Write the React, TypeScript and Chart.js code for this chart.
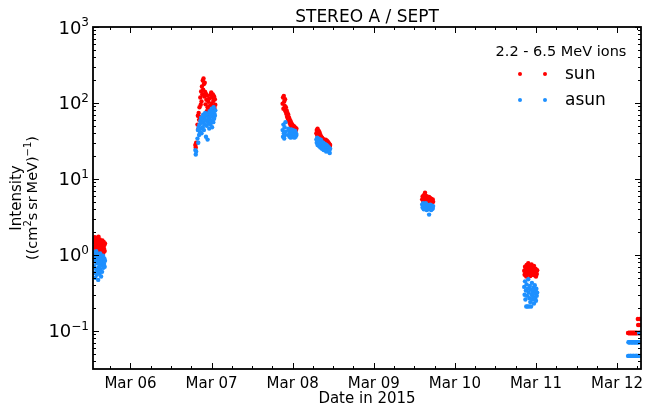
import React, { useEffect, useRef } from 'react';
import { Chart, registerables } from 'chart.js';

Chart.register(...registerables);

const FONT = "'DejaVu Sans', sans-serif";

const chartTitle = 'STEREO A / SEPT';
const xTitle = 'Date in 2015';
const yTitleLine1 = 'Intensity';
const legendTitle = '2.2 - 6.5 MeV ions';
const seriesNames = ['sun', 'asun'];
const seriesColors = ['#ff0000', '#1e90ff'];

const dayTicks = [6, 7, 8, 9, 10, 11, 12];
const dayLabels = ['Mar 06', 'Mar 07', 'Mar 08', 'Mar 09', 'Mar 10', 'Mar 11', 'Mar 12'];
const yExponents = [-1, 0, 1, 2, 3];
const xRange = [5.538, 12.295];
const yRange = [0.0316, 1000];

// time in days of March 2015
const t1 = [5.546, 5.550, 5.554, 5.558, 5.562, 5.566, 5.570, 5.574, 5.578, 5.582, 5.586, 5.590, 5.594, 5.598, 5.602, 5.606, 5.610, 5.614, 5.618, 5.622, 5.626, 5.630, 5.634, 5.638, 5.642, 5.646, 5.650, 5.654, 5.658, 5.662, 5.666, 5.670, 5.674, 5.678, 5.682, 5.686];
const sun1 = [1.62, 1.25, 1.48, 1.05, 1.71, 1.33, 1.12, 1.58, 1.41, 0.98, 1.66, 1.22, 1.50, 1.36, 1.08, 1.74, 1.29, 1.45, 1.15, 1.60, 1.02, 1.38, 1.52, 1.19, 1.44, 1.31, 1.10, 1.55, 1.27, 1.40, 1.06, 1.48, 1.21, 1.35, 1.13, 1.42];
const asun1 = [0.92, 0.71, 1.08, 0.58, 0.85, 0.50, 0.97, 0.66, 1.12, 0.78, 0.55, 0.89, 0.62, 1.02, 0.47, 0.81, 0.69, 0.95, 0.57, 0.74, 1.05, 0.64, 0.87, 0.52, 0.79, 0.93, 0.60, 0.83, 0.72, 0.98, 0.68, 0.88, 0.76, 0.90, 0.70, 0.84];

const t2 = [6.800, 6.805, 6.810, 6.826, 6.831, 6.836, 6.841, 6.846, 6.851, 6.856, 6.861, 6.866, 6.871, 6.876, 6.881, 6.886, 6.891, 6.896, 6.901, 6.906, 6.911, 6.916, 6.921, 6.926, 6.931, 6.936, 6.941, 6.946, 6.951, 6.956, 6.961, 6.966, 6.971, 6.976, 6.981, 6.986, 6.991, 6.996, 7.001, 7.006, 7.011, 7.016, 7.021, 7.026, 7.031, 7.036, 7.041, 7.046];
const sun2 = [28, 26, 30, 52, 68, 45, 74, 60, 88, 65, 118, 95, 142, 105, 165, 130, 198, 150, 210, 178, 122, 185, 140, 96, 132, 110, 78, 125, 88, 70, 104, 62, 115, 84, 92, 128, 75, 138, 98, 118, 82, 130, 106, 90, 122, 86, 112, 95];
const asun2 = [24, 21, 23, 34, 44, 30, 48, 38, 52, 42, 58, 46, 64, 40, 55, 62, 48, 70, 56, 44, 66, 52, 74, 60, 36, 68, 50, 58, 33, 72, 54, 64, 46, 78, 60, 52, 70, 58, 84, 48, 66, 76, 56, 88, 62, 72, 68, 80];

const t3 = [7.876, 7.881, 7.886, 7.891, 7.896, 7.901, 7.906, 7.911, 7.916, 7.921, 7.926, 7.931, 7.936, 7.941, 7.946, 7.951, 7.956, 7.961, 7.966, 7.971, 7.976, 7.981, 7.986, 7.991, 7.996, 8.001, 8.006, 8.011, 8.016, 8.021, 8.026, 8.031, 8.036, 8.041, 8.046];
const sun3 = [98, 118, 84, 124, 105, 92, 112, 78, 88, 72, 80, 66, 74, 62, 70, 58, 64, 55, 60, 52, 57, 50, 54, 48, 52, 46, 50, 47, 44, 49, 45, 43, 47, 44, 46];
const asun3 = [44, 36, 52, 40, 34, 48, 38, 56, 42, null, null, null, null, null, 46, 38, 44, 36, 42, 40, 35, 45, 38, 42, 36, 40, 44, 37, 41, 35, 39, 43, 36, 40, 38];

const t4 = [8.292, 8.297, 8.302, 8.307, 8.312, 8.317, 8.322, 8.327, 8.332, 8.337, 8.342, 8.347, 8.352, 8.357, 8.362, 8.367, 8.372, 8.377, 8.382, 8.387, 8.392, 8.397, 8.402, 8.407, 8.412, 8.417, 8.422, 8.427, 8.432, 8.437, 8.442, 8.447, 8.452, 8.457, 8.462];
const sun4 = [40, 44, 38, 46, 42, 39, 43, 37, 41, 36, 38, 34, 36, 33, 35, 32, 34, 31, 33, 30, 32, 31, 29, 33, 30, 28, 32, 29, 31, 27, 30, 28, 29, 27, 28];
const asun4 = [33, 30, 35, 28, 32, 29, 34, 27, 31, 30, 26, 33, 28, 31, 25, 29, 27, 30, 24, 28, 26, 29, 25, 27, 23, 28, 26, 24, 27, 25, 23, 26, 24, 22, 25];

const t5 = [9.597, 9.602, 9.607, 9.612, 9.617, 9.622, 9.627, 9.632, 9.637, 9.642, 9.647, 9.652, 9.657, 9.662, 9.667, 9.672, 9.677, 9.682, 9.687, 9.692, 9.697, 9.702, 9.707, 9.712, 9.717, 9.722, 9.727, 9.732];
const sun5 = [5.4, 5.9, 5.2, 5.7, 6.1, 5.5, 5.8, 6.6, 5.3, 6.0, 5.6, 5.2, 5.9, 5.4, 5.7, 5.1, 5.5, 5.8, 5.0, 5.4, 5.6, 5.2, 5.5, 4.9, 5.3, 5.1, 5.4, 5.0];
const asun5 = [4.6, 4.2, 4.8, 4.4, 4.0, 4.7, 4.3, 4.5, 4.1, 4.8, 4.4, 3.9, 4.6, 4.2, 4.5, 4.0, 4.3, 3.4, 4.4, 4.1, 4.6, 4.2, 3.9, 4.5, 4.0, 4.3, 4.1, 4.4];

const t6 = [10.855, 10.860, 10.865, 10.870, 10.875, 10.880, 10.885, 10.890, 10.895, 10.900, 10.905, 10.910, 10.915, 10.920, 10.925, 10.930, 10.935, 10.940, 10.945, 10.950, 10.955, 10.960, 10.965, 10.970, 10.975, 10.980, 10.985, 10.990, 10.995, 11.000, 11.005, 11.010, 11.015];
const sun6 = [0.62, 0.55, 0.70, 0.58, 0.66, 0.52, 0.74, 0.60, 0.68, 0.56, 0.78, 0.63, 0.71, 0.57, 0.65, 0.53, 0.69, 0.61, 0.75, 0.58, 0.64, 0.55, 0.67, 0.60, 0.72, 0.54, 0.62, 0.57, 0.66, 0.52, 0.60, 0.56, 0.63];
const asun6 = [0.38, 0.30, 0.45, 0.26, 0.34, 0.21, 0.41, 0.29, 0.21, 0.36, 0.48, 0.32, 0.21, 0.27, 0.39, 0.24, 0.35, 0.21, 0.30, 0.43, 0.26, 0.33, 0.28, 0.37, 0.23, 0.31, 0.40, 0.27, 0.34, 0.25, 0.36, 0.29, 0.32];

const t7 = [12.136, 12.140, 12.144, 12.148, 12.152, 12.156, 12.160, 12.164, 12.168, 12.172, 12.176, 12.180, 12.184, 12.188, 12.192, 12.196, 12.200, 12.204, 12.208, 12.212, 12.216, 12.220, 12.224, 12.228, 12.232, 12.236, 12.240, 12.244, 12.248, 12.252, 12.256, 12.260, 12.264, 12.268, 12.272, 12.276, 12.280, 12.284];
const sun7 = [0.094, 0.094, 0.094, 0.094, 0.094, 0.094, 0.094, 0.094, 0.094, 0.094, 0.094, 0.094, 0.094, 0.094, 0.094, 0.094, 0.094, 0.094, 0.094, 0.094, 0.094, 0.094, 0.094, 0.094, 0.094, 0.094, 0.094, 0.094, 0.094, 0.094, 0.144, 0.120, 0.094, 0.094, 0.094, 0.094, 0.144, 0.120];
const asun7 = [0.047, 0.071, 0.047, 0.071, 0.071, 0.047, 0.071, 0.047, 0.047, 0.071, 0.047, 0.071, 0.071, 0.047, 0.071, 0.047, 0.071, 0.047, 0.047, 0.071, 0.071, 0.047, 0.071, 0.047, 0.071, 0.047, 0.047, 0.071, 0.047, 0.071, 0.071, 0.047, 0.071, 0.047, 0.094, 0.071, 0.094, 0.047];

const sunTimes = [t1, t2, t3, t4, t5, t6, t7];
const sunValues = [sun1, sun2, sun3, sun4, sun5, sun6, sun7];
const asunValues = [asun1, asun2, asun3, asun4, asun5, asun6, asun7];

function toPoints(times: number[][], values: (number | null)[][]) {
  const pts: { x: number; y: number }[] = [];
  times.forEach((ts, k) => {
    ts.forEach((x, i) => {
      const y = values[k][i];
      if (y != null) pts.push({ x, y });
    });
  });
  return pts;
}

type Seg = { t: string; size: number; rise: number };
function drawSegments(ctx: CanvasRenderingContext2D, segs: Seg[], startX: number, baseY: number) {
  let x = startX;
  for (const s of segs) {
    ctx.font = `${s.size}px ${FONT}`;
    ctx.fillText(s.t, x, baseY - s.rise);
    x += ctx.measureText(s.t).width;
  }
}
function segWidth(ctx: CanvasRenderingContext2D, segs: Seg[]) {
  let w = 0;
  for (const s of segs) {
    ctx.font = `${s.size}px ${FONT}`;
    w += ctx.measureText(s.t).width;
  }
  return w;
}

const decorPlugin = {
  id: 'decor',
  afterDatasetsDraw(chart: any) {
    const { ctx, chartArea: a, scales } = chart;
    const xs = scales.x;
    const ys = scales.y;
    ctx.save();
    ctx.fillStyle = '#000';
    ctx.strokeStyle = '#000';

    // ticks
    ctx.lineWidth = 1;
    const line = (x1: number, y1: number, x2: number, y2: number) => {
      ctx.beginPath();
      ctx.moveTo(x1, y1);
      ctx.lineTo(x2, y2);
      ctx.stroke();
    };
    for (let q = Math.ceil(xs.min * 4); q / 4 <= xs.max; q++) {
      const px = Math.round(xs.getPixelForValue(q / 4)) + 0.5;
      const len = q % 4 === 0 ? 6 : 3;
      line(px, a.bottom, px, a.bottom - len);
      line(px, a.top, px, a.top + len);
    }
    for (let d = Math.floor(Math.log10(ys.min)); d <= Math.ceil(Math.log10(ys.max)); d++) {
      for (let m = 1; m <= 9; m++) {
        const v = m * Math.pow(10, d);
        if (v < ys.min || v > ys.max * 1.0001) continue;
        const py = Math.round(ys.getPixelForValue(v)) + 0.5;
        const len = m === 1 ? 6 : 3;
        line(a.left, py, a.left + len, py);
        line(a.right, py, a.right - len, py);
      }
    }

    // frame
    ctx.lineWidth = 1.8;
    ctx.strokeRect(a.left, a.top, a.right - a.left, a.bottom - a.top);

    // x tick labels
    ctx.textAlign = 'center';
    ctx.textBaseline = 'alphabetic';
    ctx.font = `15px ${FONT}`;
    dayTicks.forEach((d, i) => {
      ctx.fillText(dayLabels[i], xs.getPixelForValue(d), a.bottom + 18.5);
    });
    // x title
    ctx.fillText(xTitle, (a.left + a.right) / 2, a.bottom + 34);

    // y tick labels
    ctx.textAlign = 'left';
    yExponents.forEach((e) => {
      const py = ys.getPixelForValue(Math.pow(10, e));
      const sup = e < 0 ? '\u2212' + String(-e) : String(e);
      ctx.font = `12px ${FONT}`;
      const sw = ctx.measureText(sup).width;
      ctx.font = `18px ${FONT}`;
      const bw = ctx.measureText('10').width;
      const right = a.left - 4;
      ctx.fillText('10', right - sw - bw, py + 6.5);
      ctx.font = `12px ${FONT}`;
      ctx.fillText(sup, right - sw, py - 1);
    });

    // y title (rotated)
    const cy = (a.top + a.bottom) / 2;
    ctx.save();
    ctx.translate(20.5, cy);
    ctx.rotate(-Math.PI / 2);
    ctx.textAlign = 'center';
    ctx.font = `15px ${FONT}`;
    ctx.fillText(yTitleLine1, 0, 0);
    ctx.restore();
    const segs: Seg[] = [
      { t: '((cm', size: 14.5, rise: 0 },
      { t: '2', size: 10, rise: 6 },
      { t: 's\u2009sr\u2009MeV)', size: 14.5, rise: 0 },
      { t: '\u22121', size: 10, rise: 6 },
      { t: ')', size: 14.5, rise: 0 },
    ];
    ctx.save();
    ctx.translate(36.5, cy);
    ctx.rotate(-Math.PI / 2);
    ctx.textAlign = 'left';
    const w = segWidth(ctx, segs);
    drawSegments(ctx, segs, -w / 2, 0);
    ctx.restore();

    // title
    ctx.textAlign = 'center';
    ctx.font = `17px ${FONT}`;
    ctx.fillText(chartTitle, (a.left + a.right) / 2, 22);

    // legend
    ctx.font = `14.5px ${FONT}`;
    ctx.fillText(legendTitle, 561, 56);
    ctx.textAlign = 'left';
    ctx.font = `17px ${FONT}`;
    const rows = [74, 100];
    seriesNames.forEach((name, i) => {
      ctx.fillStyle = seriesColors[i];
      [520, 545].forEach((dx) => {
        ctx.beginPath();
        ctx.arc(dx, rows[i], 2, 0, Math.PI * 2);
        ctx.fill();
      });
      ctx.fillStyle = '#000';
      ctx.fillText(name, 565, rows[i] + 5);
    });
    ctx.restore();
  },
};

export default function App() {
  const ref = useRef<HTMLCanvasElement | null>(null);
  useEffect(() => {
    document.body.style.margin = '0';
    const canvas = ref.current;
    if (!canvas) return;
    const chart = new Chart(canvas, {
      type: 'scatter',
      data: {
        datasets: [
          {
            label: seriesNames[0],
            data: toPoints(sunTimes, sunValues),
            backgroundColor: seriesColors[0],
            borderWidth: 0,
            pointRadius: 2.2,
            order: 1,
            clip: 0,
          },
          {
            label: seriesNames[1],
            data: toPoints(sunTimes, asunValues),
            backgroundColor: seriesColors[1],
            borderWidth: 0,
            pointRadius: 2.2,
            order: 0,
            clip: 0,
          },
        ],
      },
      options: {
        animation: false,
        responsive: false,
        devicePixelRatio: 1,
        layout: { padding: { left: 93, top: 27, right: 5, bottom: 38 } },
        plugins: { legend: { display: false }, title: { display: false }, tooltip: { enabled: false } },
        scales: {
          x: { type: 'linear', min: xRange[0], max: xRange[1], display: false },
          y: { type: 'logarithmic', min: yRange[0], max: yRange[1], display: false },
        },
      },
      plugins: [decorPlugin],
    } as any);
    return () => chart.destroy();
  }, []);
  return <canvas ref={ref} width={646} height={407} style={{ display: 'block', width: 646, height: 407 }} />;
}
